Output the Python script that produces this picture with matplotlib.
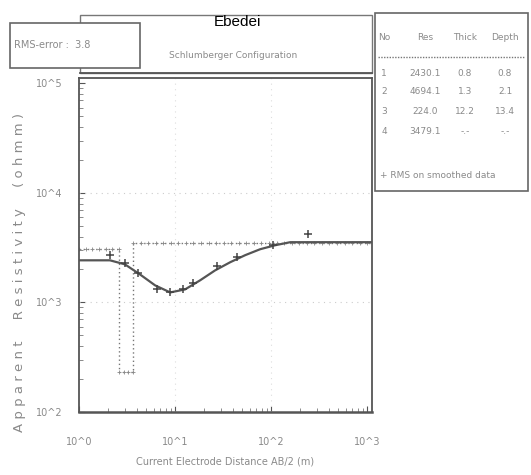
import matplotlib
matplotlib.use("Agg")
import matplotlib.pyplot as plt
from matplotlib.lines import Line2D
from matplotlib.patches import Rectangle
import numpy as np

# ---------------- data ----------------
# smoothed field data points (AB/2 [m], apparent resistivity [ohm-m])
data_ab2 = [2.1, 3.0, 4.1, 6.5, 8.9, 12.1, 15.4, 27.3, 44.0, 105.0, 243.0]
data_rho = [2700, 2280, 1850, 1316, 1236, 1316, 1494, 2138, 2590, 3330, 4210]

# model (calculated) curve
curve_ab2 = [1.0, 2.1, 3.0, 4.3, 6.2, 8.9, 12.7, 18.2, 26.1, 37.4, 53.5, 76.6, 110.0, 158.0, 1120.0]
curve_rho = [2425, 2425, 2230, 1806, 1432, 1235, 1316, 1592, 1964, 2328, 2700, 3060, 3330, 3550, 3550]

# layered model (step)
layer_res = [3060, 233, 3475]
layer_bounds = [1.0, 2.6, 3.65, 1120.0]

# table
tbl_header = ["No", "Res", "Thick", "Depth"]
tbl_no = ["1", "2", "3", "4"]
tbl_res = ["2430.1", "4694.1", "224.0", "3479.1"]
tbl_thick = ["0.8", "1.3", "12.2", "-.-"]
tbl_depth = ["0.8", "2.1", "13.4", "-.-"]

rms_value = "3.8"
xticks_v = [1, 10, 100, 1000]
xtick_lbl = ["10^0", "10^1", "10^2", "10^3"]
yticks_v = [100, 1000, 10000, 100000]
ytick_lbl = ["10^2", "10^3", "10^4", "10^5"]

# ---------------- layout ----------------
W, H = 531, 475
fig = plt.figure(figsize=(W / 100, H / 100), dpi=100)
fig.patch.set_facecolor("white")

def fx(px):
    return px / W

def fy(py):
    return 1 - py / H

GRAY = "#8a8a8a"
DARK = "#555555"
FONT = "DejaVu Sans"

ax_l, ax_r, ax_t, ax_b = 79, 372, 78, 412
ax = fig.add_axes([fx(ax_l), fy(ax_b), fx(ax_r) - fx(ax_l), fy(ax_t) - fy(ax_b)])
ax.set_xscale("log")
ax.set_yscale("log")
ax.set_xlim(1.0, 1120.0)
ax.set_ylim(100, 1.12e5)

for s in ax.spines.values():
    s.set_color(DARK)
    s.set_linewidth(1.3)
ax.spines["bottom"].set_linewidth(1.8)

# faint dotted grid
for v in yticks_v[1:3]:
    ax.axhline(v, color="#cccccc", lw=0.8, ls=(0, (1, 4)))
for v in xticks_v[1:3]:
    ax.axvline(v, color="#dddddd", lw=0.8, ls=(0, (1, 4)))

# layered model step (dotted with plus)
sx, sy = [], []
for i, r in enumerate(layer_res):
    sx += [layer_bounds[i], layer_bounds[i + 1]]
    sy += [r, r]
ax.plot(sx, sy, color="#777777", lw=1.0, ls=(0, (1, 2)))
for i, r in enumerate(layer_res):
    xs = np.geomspace(layer_bounds[i], min(layer_bounds[i + 1], 1000),
                      3 + int(12 * np.log10(layer_bounds[i + 1] / layer_bounds[i])))
    ax.plot(xs, [r] * len(xs), ls="none", marker="+", ms=3, mew=0.6, color="#888888")

# model curve
ax.plot(curve_ab2, curve_rho, color=DARK, lw=1.6)
# data points
ax.plot(data_ab2, data_rho, ls="none", marker="+", ms=6, mew=1.1, color="#444444")

ax.set_xticks(xticks_v)
ax.set_xticklabels(xtick_lbl)
ax.set_yticks(yticks_v)
ax.set_yticklabels(ytick_lbl)
ax.tick_params(axis="both", which="both", top=False, right=False)
ax.tick_params(axis="both", which="major", direction="in", length=4, color=DARK,
               labelsize=7, labelcolor=GRAY)
ax.tick_params(axis="both", which="minor", direction="in", length=3, color="#777777")
ax.tick_params(axis="x", pad=18)
ax.tick_params(axis="y", pad=12)
for t in ax.get_xticklabels() + ax.get_yticklabels():
    t.set_fontfamily(FONT)

# double top line
fig.add_artist(Line2D([fx(80), fx(372)], [fy(73), fy(73)], color=DARK, lw=1.3))

# header box
fig.add_artist(Rectangle((fx(80), fy(73)), fx(372) - fx(80), fy(15) - fy(73),
                         fill=False, ec="#777777", lw=1.0))
# RMS box
fig.add_artist(Rectangle((fx(10), fy(68)), fx(140) - fx(10), fy(23) - fy(68),
                         fc="white", ec="#666666", lw=1.2))
fig.text(fx(14), fy(45), "RMS-error :  " + rms_value, fontsize=7, color=GRAY,
         family=FONT, va="center", ha="left")

fig.text(fx(237), fy(22), "Ebedei", fontsize=11, color="black",
         family="Liberation Sans", ha="center", va="center")
fig.text(fx(233), fy(56), "Schlumberger Configuration", fontsize=6.5, color=GRAY,
         family=FONT, ha="center", va="center")

# right table box
fig.add_artist(Rectangle((fx(375), fy(191)), fx(528) - fx(375), fy(13) - fy(191),
                         fill=False, ec="#666666", lw=1.2))
col_x = [384, 425, 465, 505]
for cx, h in zip(col_x, tbl_header):
    fig.text(fx(cx), fy(38), h, fontsize=6.5, color=GRAY, family=FONT,
             ha="center", va="center")
fig.add_artist(Line2D([fx(378), fx(525)], [fy(57), fy(57)], color="#777777",
                      lw=1.0, ls=(0, (1, 1))))
row_y = [73, 92, 112, 132]
for i, ry in enumerate(row_y):
    for cx, val in zip(col_x, [tbl_no[i], tbl_res[i], tbl_thick[i], tbl_depth[i]]):
        fig.text(fx(cx), fy(ry), val, fontsize=6.5, color=GRAY, family=FONT,
                 ha="center", va="center")
fig.text(fx(380), fy(176), "+ RMS on smoothed data", fontsize=6.5, color=GRAY,
         family=FONT, ha="left", va="center")

# axis labels
fig.text(fx(225), fy(462), "Current Electrode Distance AB/2 (m)", fontsize=7,
         color=GRAY, family=FONT, ha="center", va="center")
fig.text(fx(20), fy(272), "A p p a r e n t     R e s i s t i v i t y     ( o h m m )",
         fontsize=9.5, color=GRAY, family=FONT, rotation=90, ha="center", va="center")

fig.savefig("out.png", dpi=100, facecolor="white")
